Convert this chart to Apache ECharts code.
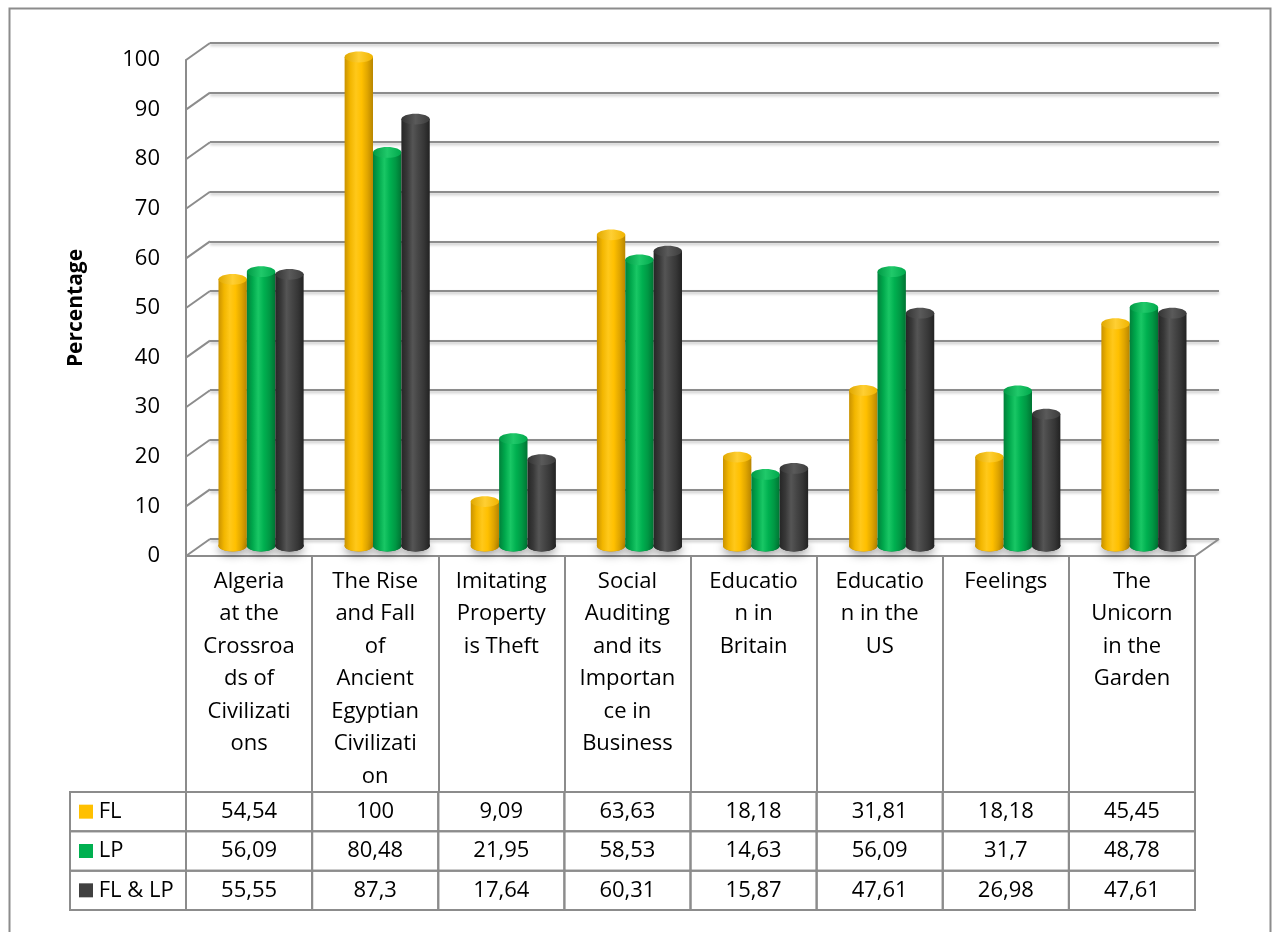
<!DOCTYPE html>
<html>
<head>
<meta charset="utf-8">
<script src="https://cdn.jsdelivr.net/npm/echarts@6/dist/echarts.min.js"></script>
<style>
  html, body { margin: 0; padding: 0; background: #ffffff; }
  #chart { width: 1272px; height: 932px; }
</style>
</head>
<body>
<div id="chart"></div>
<script>
// Category labels, wrapped the way the column cells wrap them
const categories = [
  'Algeria\nat the\nCrossroa\nds of\nCivilizati\nons',
  'The Rise\nand Fall\nof\nAncient\nEgyptian\nCivilizati\non',
  'Imitating\nProperty\nis Theft',
  'Social\nAuditing\nand its\nImportan\nce in\nBusiness',
  'Educatio\nn in\nBritain',
  'Educatio\nn in the\nUS',
  'Feelings',
  'The\nUnicorn\nin the\nGarden'
];
const seriesNames = ['FL', 'LP', 'FL & LP'];
const flValues   = [54.54, 100, 9.09, 63.63, 18.18, 31.81, 18.18, 45.45];
const lpValues   = [56.09, 80.48, 21.95, 58.53, 14.63, 56.09, 31.7, 48.78];
const bothValues = [55.55, 87.3, 17.64, 60.31, 15.87, 47.61, 26.98, 47.61];
const yTicks = [0, 10, 20, 30, 40, 50, 60, 70, 80, 90, 100];

// ---- layout / style ----
const FONT = '"Open Sans", "Liberation Sans", sans-serif';
const GRID_GRAY = '#8c8c8c';
const DEPTH_X = 24;      // horizontal offset of the back wall
const DEPTH_Y = 17;      // vertical offset of the back wall
const BAR_RATIO = 0.225; // one cylinder's width as a share of a category band
const HEADER_W = 116;    // width of the table's row-header column
const COLORS = ['#FFC000', '#00B050', '#404040'];
const PALETTE = [
  { body: ['#c99200', '#f2b600', '#ffc81a', '#ffc000', '#e0a600', '#b88500'],
    top:  ['#e0a800', '#ffcf33', '#f0b400'] },
  { body: ['#00803a', '#00a84c', '#19c765', '#00b050', '#009844', '#007433'],
    top:  ['#009a45', '#20c96a', '#00a84c'] },
  { body: ['#262626', '#383838', '#555555', '#454545', '#363636', '#222222'],
    top:  ['#333333', '#5a5a5a', '#3c3c3c'] }
];
const allValues = [flValues, lpValues, bothValues];

function hGradient(cols) {
  const n = cols.length - 1;
  return {
    type: 'linear', x: 0, y: 0, x2: 1, y2: 0,
    colorStops: cols.map((c, i) => ({ offset: i / n, color: c }))
  };
}
function fmt(v) { return String(v).replace('.', ','); }

// Cylinder for series si, drawn through the bar grid's scales
function cylinderItem(si) {
  return function (params, api) {
    const c = api.value(0), v = api.value(1);
    const base = api.coord([c, 0]);
    const top = api.coord([c, v]);
    const band = api.size([1, 0])[0];
    const w = band * BAR_RATIO;
    const cx = base[0] + (si - 1) * w;
    const rx = w / 2, ry = w * 0.19;
    const pal = PALETTE[si];
    return {
      type: 'group',
      children: [
        { type: 'ellipse', shape: { cx: cx, cy: base[1], rx: rx, ry: ry },
          style: { fill: pal.body[0], shadowBlur: 10, shadowColor: 'rgba(0,0,0,0.45)', shadowOffsetY: 3 } },
        { type: 'ellipse', shape: { cx: cx, cy: base[1], rx: rx, ry: ry },
          style: { fill: hGradient(pal.body) } },
        { type: 'rect', shape: { x: cx - rx, y: top[1], width: w, height: base[1] - top[1] },
          style: { fill: hGradient(pal.body) } },
        { type: 'ellipse', shape: { cx: cx, cy: top[1], rx: rx, ry: ry },
          style: { fill: hGradient(pal.top) } }
      ]
    };
  };
}

// Diagonals joining the front value axis to the back-wall gridlines
function diagonalItem(params, api) {
  const cs = params.coordSys;
  const p = api.coord([0, api.value(1)]);
  const lines = [
    { type: 'line', shape: { x1: cs.x, y1: p[1], x2: cs.x - DEPTH_X, y2: p[1] + DEPTH_Y },
      style: { stroke: GRID_GRAY, lineWidth: 2 } }
  ];
  if (api.value(1) === 0) {
    lines.push({ type: 'line',
      shape: { x1: cs.x + cs.width, y1: p[1], x2: cs.x + cs.width - DEPTH_X, y2: p[1] + DEPTH_Y },
      style: { stroke: GRID_GRAY, lineWidth: 2 } });
  }
  return { type: 'group', children: lines };
}

// Data-table cell: border plus value text
function tableItem(params, api) {
  const c = api.value(0), r = api.value(1), v = api.value(2);
  const p = api.coord([c, r]);
  const s = api.size([1, 1]);
  const x0 = p[0] - s[0] / 2, y0 = p[1] - s[1] / 2;
  const children = [
    { type: 'rect', shape: { x: x0, y: y0, width: s[0], height: s[1] },
      style: { fill: 'none', stroke: GRID_GRAY, lineWidth: 2 } },
    { type: 'text', x: p[0], y: p[1],
      style: { text: fmt(v), fill: '#000', font: '22px ' + FONT,
               align: 'center', verticalAlign: 'middle',
               textAlign: 'center', textVerticalAlign: 'middle' } }
  ];
  if (c === 0) {
    children.push({ type: 'rect', shape: { x: x0 - HEADER_W, y: y0, width: HEADER_W, height: s[1] },
      style: { fill: 'none', stroke: GRID_GRAY, lineWidth: 2 } });
  }
  return { type: 'group', children: children };
}

const tableData = [];
allValues.forEach((vals, r) => vals.forEach((v, c) => tableData.push([c, r, v])));

const hidden = { show: false };
const option = {
  backgroundColor: '#ffffff',
  animation: false,
  textStyle: { fontFamily: FONT },
  graphic: [{
    type: 'rect', left: 7, top: 6,
    shape: { width: 1261, height: 940 },
    style: { fill: 'none', stroke: GRID_GRAY, lineWidth: 2 }, z: -1
  }],
  grid: [
    { left: 210, right: 53, top: 43, bottom: 393 },   // back wall
    { left: 186, right: 77, top: 60, bottom: 376 },   // front axis + category cells
    { left: 198, right: 65, top: 57, bottom: 386 },   // cylinders
    { left: 186, right: 77, top: 792, bottom: 22 }    // data table
  ],
  xAxis: [
    { gridIndex: 0, type: 'category', data: categories, show: false },
    { gridIndex: 1, type: 'category', data: categories,
      axisLine: { lineStyle: { color: GRID_GRAY, width: 2 } },
      axisTick: { show: true, interval: 0, length: 236, lineStyle: { color: GRID_GRAY, width: 2 } },
      axisLabel: { interval: 0, color: '#000', fontSize: 22, lineHeight: 32.5, margin: 9, fontFamily: FONT } },
    { gridIndex: 2, type: 'category', data: categories, show: false },
    { gridIndex: 3, type: 'category', data: categories, show: false }
  ],
  yAxis: [
    { gridIndex: 0, type: 'value', min: 0, max: 100, interval: 10,
      axisLine: hidden, axisTick: hidden, axisLabel: hidden,
      splitLine: { show: true, lineStyle: { color: GRID_GRAY, width: 2,
        shadowBlur: 3, shadowColor: 'rgba(0,0,0,0.25)', shadowOffsetY: 2 } } },
    { gridIndex: 1, type: 'value', min: 0, max: 100, interval: 10,
      name: 'Percentage', nameLocation: 'middle', nameRotate: 90, nameGap: 99,
      nameTextStyle: { color: '#000', fontSize: 21, fontWeight: 'bold', fontFamily: FONT },
      axisLine: { show: true, lineStyle: { color: GRID_GRAY, width: 2 } },
      axisTick: hidden, splitLine: hidden,
      axisLabel: { color: '#000', fontSize: 22, margin: 26, fontFamily: FONT } },
    { gridIndex: 2, type: 'value', min: 0, max: 100, show: false, splitLine: hidden },
    { gridIndex: 3, type: 'category', data: seriesNames, inverse: true,
      axisLine: hidden, axisTick: hidden, splitLine: hidden,
      axisLabel: {
        align: 'left', margin: 107, color: '#000', fontSize: 22, fontFamily: FONT,
        formatter: (val, idx) => '{s' + idx + '|} ' + val,
        rich: {
          s0: { width: 14, height: 14, backgroundColor: COLORS[0] },
          s1: { width: 14, height: 14, backgroundColor: COLORS[1] },
          s2: { width: 14, height: 14, backgroundColor: COLORS[2] }
        }
      } }
  ],
  series: [
    { type: 'custom', xAxisIndex: 0, yAxisIndex: 0, z: 2,
      data: yTicks.map(v => [0, v]), renderItem: diagonalItem },
    ...seriesNames.map((name, si) => ({
      type: 'custom', name: name, xAxisIndex: 2, yAxisIndex: 2, z: 5 + si,
      data: allValues[si].map((v, c) => [c, v]),
      renderItem: cylinderItem(si)
    })),
    { type: 'custom', xAxisIndex: 3, yAxisIndex: 3, z: 3,
      data: tableData, renderItem: tableItem }
  ]
};

const chart = echarts.init(document.getElementById('chart'), null, { renderer: 'canvas' });
chart.setOption(option);
</script>
</body>
</html>
